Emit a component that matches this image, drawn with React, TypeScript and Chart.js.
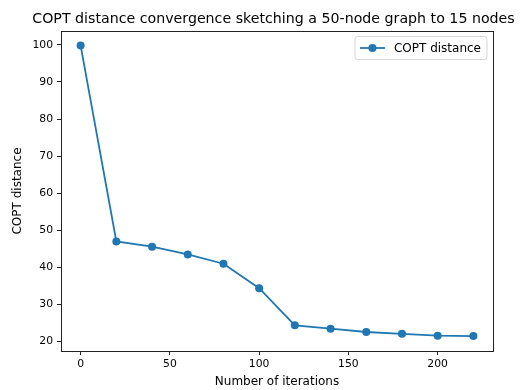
import React, { useEffect, useRef } from 'react';
import { Chart, registerables } from 'chart.js';

Chart.register(...registerables);

const iterations = [0, 20, 40, 60, 80, 100, 120, 140, 160, 180, 200, 220];
const coptDistance = [99.8, 47.0, 45.6, 43.5, 41.0, 34.4, 24.4, 23.5, 22.6, 22.1, 21.6, 21.5];
const xTicks = [0, 50, 100, 150, 200];
const yTicks = [20, 30, 40, 50, 60, 70, 80, 90, 100];
const titleText = 'COPT distance convergence sketching a 50-node graph to 15 nodes';
const seriesLabel = 'COPT distance';
const xLabel = 'Number of iterations';
const yLabel = 'COPT distance';

const FONT = 'DejaVu Sans';
const BLUE = '#1f77b4';

export default function App() {
  const ref = useRef<HTMLCanvasElement | null>(null);

  useEffect(() => {
    document.body.style.margin = '0';
    const canvas = ref.current;
    if (!canvas) return;

    const decor = {
      id: 'decor',
      afterDraw(chart: any) {
        const { ctx, chartArea } = chart;
        const { left, right, top, bottom } = chartArea;
        ctx.save();
        // frame
        ctx.strokeStyle = '#222';
        ctx.lineWidth = 1;
        ctx.strokeRect(Math.round(left) + 0.5, Math.round(top) + 0.5, Math.round(right - left), Math.round(bottom - top));
        // title
        ctx.fillStyle = '#000';
        ctx.font = `14.2px "${FONT}"`;
        ctx.textAlign = 'center';
        ctx.textBaseline = 'alphabetic';
        ctx.fillText(titleText, (left + right) / 2 - 3.5, 22.5);
        // legend
        ctx.font = `12px "${FONT}"`;
        const tw = ctx.measureText(seriesLabel).width;
        const boxW = 5 + 25 + 9 + tw + 6;
        const boxH = 23;
        const bx = right - 6 - boxW;
        const by = top + 5.5;
        ctx.beginPath();
        const r = 3;
        ctx.moveTo(bx + r, by);
        ctx.lineTo(bx + boxW - r, by);
        ctx.quadraticCurveTo(bx + boxW, by, bx + boxW, by + r);
        ctx.lineTo(bx + boxW, by + boxH - r);
        ctx.quadraticCurveTo(bx + boxW, by + boxH, bx + boxW - r, by + boxH);
        ctx.lineTo(bx + r, by + boxH);
        ctx.quadraticCurveTo(bx, by + boxH, bx, by + boxH - r);
        ctx.lineTo(bx, by + r);
        ctx.quadraticCurveTo(bx, by, bx + r, by);
        ctx.closePath();
        ctx.fillStyle = 'rgba(255,255,255,0.8)';
        ctx.fill();
        ctx.strokeStyle = '#d6d6d6';
        ctx.lineWidth = 1;
        ctx.stroke();
        const ly = by + boxH / 2;
        ctx.strokeStyle = BLUE;
        ctx.lineWidth = 1.8;
        ctx.beginPath();
        ctx.moveTo(bx + 5, ly);
        ctx.lineTo(bx + 30, ly);
        ctx.stroke();
        ctx.fillStyle = BLUE;
        ctx.beginPath();
        ctx.arc(bx + 17.5, ly, 4, 0, Math.PI * 2);
        ctx.fill();
        ctx.fillStyle = '#000';
        ctx.textAlign = 'left';
        ctx.textBaseline = 'middle';
        ctx.fillText(seriesLabel, bx + 39, ly + 0.5);
        ctx.restore();
      },
    };

    const chart = new Chart(canvas, {
      type: 'line',
      data: {
        datasets: [
          {
            label: seriesLabel,
            data: iterations.map((x, i) => ({ x, y: coptDistance[i] })),
            borderColor: BLUE,
            backgroundColor: BLUE,
            borderWidth: 1.8,
            pointRadius: 4,
            pointBorderWidth: 0,
            pointBackgroundColor: BLUE,
            tension: 0,
          },
        ],
      },
      options: {
        animation: false,
        responsive: false,
        maintainAspectRatio: false,
        layout: { padding: { top: 31, right: 37, left: 0, bottom: 0 } },
        plugins: {
          legend: { display: false },
          title: { display: false },
          tooltip: { enabled: false },
        },
        scales: {
          x: {
            type: 'linear',
            min: -11,
            max: 231,
            afterBuildTicks: (s: any) => {
              s.ticks = xTicks.map((v) => ({ value: v }));
            },
            afterFit: (s: any) => {
              s.height = 39;
            },
            grid: { drawOnChartArea: false, drawTicks: true, tickLength: 4, color: '#222', lineWidth: 1 },
            border: { display: false },
            ticks: { color: '#000', font: { family: FONT, size: 10.8 }, padding: 3, maxRotation: 0 },
            title: { display: true, text: xLabel, color: '#000', font: { family: FONT, size: 12 }, padding: { top: 0, bottom: 1 } },
          },
          y: {
            type: 'linear',
            min: 17.48,
            max: 103.72,
            afterBuildTicks: (s: any) => {
              s.ticks = yTicks.map((v) => ({ value: v }));
            },
            afterFit: (s: any) => {
              s.width = 61;
            },
            grid: { drawOnChartArea: false, drawTicks: true, tickLength: 4, color: '#222', lineWidth: 1 },
            border: { display: false },
            ticks: { color: '#000', font: { family: FONT, size: 10.8 }, padding: 4 },
            title: { display: true, text: yLabel, color: '#000', font: { family: FONT, size: 12 }, padding: { top: 11, bottom: 0 } },
          },
        },
      },
      plugins: [decor],
    });

    return () => chart.destroy();
  }, []);

  return (
    <div style={{ width: 530, height: 390, position: 'relative', background: '#fff' }}>
      <canvas ref={ref} width={530} height={390} style={{ display: 'block', width: 530, height: 390 }} />
    </div>
  );
}
